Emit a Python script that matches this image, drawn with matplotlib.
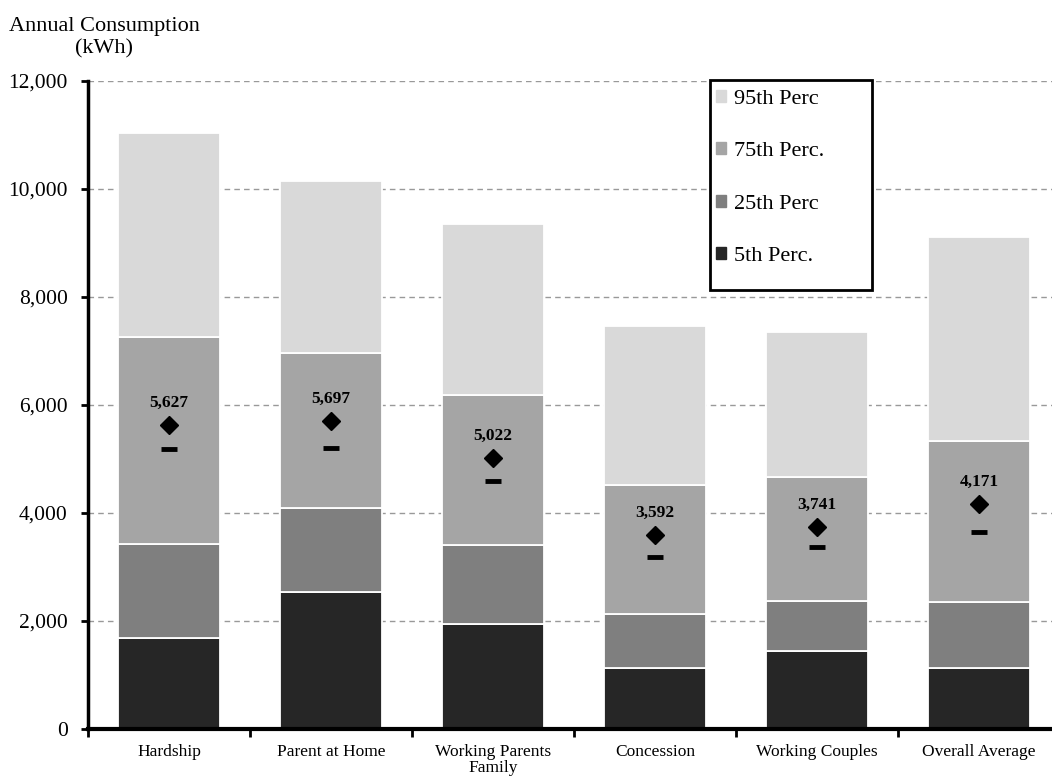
import matplotlib.pyplot as plt
import matplotlib.patches as mpatches
from matplotlib.ticker import FuncFormatter, FixedLocator
import numpy as np

plt.rcParams['font.family'] = ['Liberation Serif', 'DejaVu Serif']

# household groups
groups = ['Hardship', 'Parent at Home', 'Working Parents\nFamily',
          'Concession', 'Working Couples', 'Overall Average']

# percentile levels of annual consumption (kWh)
p5 = [1690, 2540, 1940, 1130, 1440, 1130]
p25 = [3430, 4090, 3410, 2130, 2370, 2350]
p75 = [7260, 6960, 6190, 4520, 4660, 5330]
p95 = [11040, 10150, 9350, 7460, 7350, 9110]

# mean (diamond, labelled) and median (dash)
means = [5627, 5697, 5022, 3592, 3741, 4171]
medians = [5190, 5200, 4590, 3190, 3370, 3640]

colors = ['#262626', '#7f7f7f', '#a5a5a5', '#d9d9d9']
labels = ['5th Perc.', '25th Perc', '75th Perc.', '95th Perc']

fig = plt.figure(figsize=(10.52, 7.78), dpi=100)
ax = fig.add_axes([88 / 1052, 1 - 729 / 778, 1 - 88 / 1052, 648 / 778])

x = np.arange(len(groups))
w = 0.63
levels = [p5, p25, p75, p95]
bottom = np.zeros(len(groups))
for lev, c in zip(levels, colors):
    lev = np.array(lev)
    ax.bar(x, lev - bottom, w, bottom=bottom, color=c, edgecolor='white',
           linewidth=1.3, zorder=2)
    bottom = lev

ax.plot(x, means, 'D', color='black', ms=9.5, zorder=4)
ax.plot(x, medians, '_', color='black', ms=11, mew=3.5, zorder=4)
for xi, m in zip(x, means):
    ax.annotate(f'{m:,}', (xi, m), xytext=(0, 16), textcoords='offset points',
                ha='center', va='center', fontsize=12.5, fontweight='bold', zorder=5)

ax.set_ylim(0, 12000)
ax.set_xlim(-0.5, -0.5 + 964 / 162)
ax.set_yticks(np.arange(0, 12001, 2000))
ax.yaxis.set_major_formatter(FuncFormatter(lambda v, p: f'{int(v):,}'))
ax.tick_params(axis='y', labelsize=15.5, length=5, width=2, pad=9.5)
ax.yaxis.grid(True, linestyle=(0, (4, 3)), color='#999999', linewidth=1, zorder=0)
ax.set_axisbelow(True)

ax.set_xticks(x)
ax.set_xticklabels(groups, fontsize=12.5, linespacing=1.0)
ax.tick_params(axis='x', length=0, pad=11)
ax.xaxis.set_minor_locator(FixedLocator(np.arange(-0.5, 6, 1)))
ax.tick_params(axis='x', which='minor', length=6, width=2)

for s in ['top', 'right']:
    ax.spines[s].set_visible(False)
ax.spines['left'].set_linewidth(2.5)
ax.spines['bottom'].set_linewidth(3)

fig.text(104 / 1052, 1 - 17 / 778, 'Annual Consumption\n(kWh)', ha='center',
         va='top', fontsize=16, linespacing=1.2, multialignment='center')

# legend box
box = mpatches.Rectangle((710 / 1052, 1 - 290 / 778), 162 / 1052, 210 / 778,
                         transform=fig.transFigure, facecolor='white',
                         edgecolor='black', linewidth=2, zorder=6, clip_on=False)
ax.add_artist(box)
handles = [mpatches.Patch(color=c) for c in colors[::-1]]
leg = ax.legend(handles, labels[::-1], loc='upper left',
                bbox_to_anchor=(716 / 1052, 1 - 90 / 778),
                bbox_transform=fig.transFigure, frameon=False, fontsize=16,
                handlelength=0.45, handleheight=0.45, handletextpad=0.35,
                labelspacing=1.5, borderpad=0, borderaxespad=0)
leg.set_zorder(7)

fig.savefig('out.png', dpi=100)
